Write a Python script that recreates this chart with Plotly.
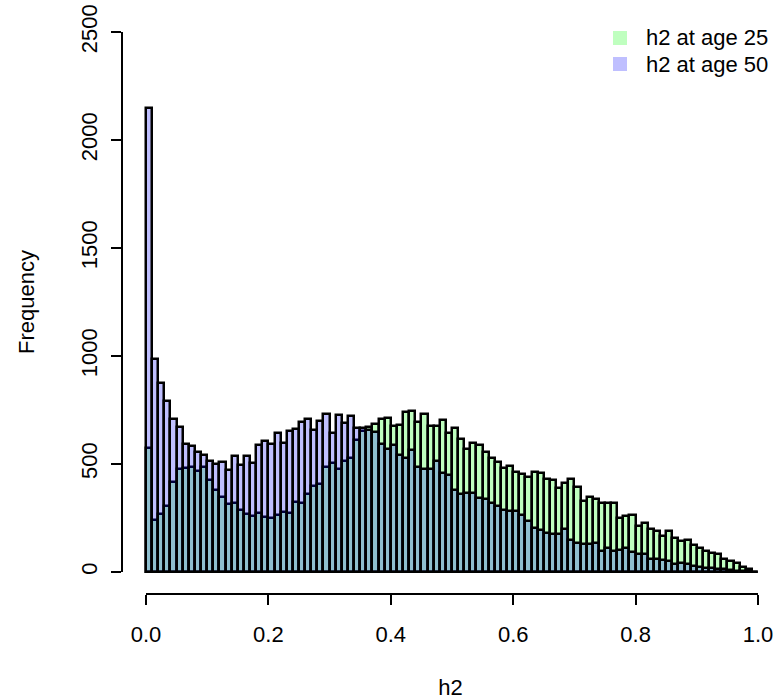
import plotly.graph_objects as go

# Histogram bins: width 0.01 from 0.0 to 1.0
bin_width = 0.01
bin_starts = [round(i * bin_width, 2) for i in range(100)]

# Frequencies
age25 = [576, 241, 267, 306, 417, 475, 481, 485, 468, 488,
         426, 380, 349, 313, 321, 287, 269, 259, 275, 255,
         252, 262, 278, 275, 324, 318, 360, 398, 409, 486,
         506, 475, 514, 529, 610, 655, 672, 684, 707, 712,
         676, 679, 741, 745, 694, 730, 676, 676, 704, 645,
         668, 617, 571, 599, 586, 556, 529, 509, 483, 491,
         463, 452, 441, 463, 457, 429, 426, 390, 414, 429,
         395, 329, 347, 336, 321, 321, 321, 252, 259, 265,
         213, 225, 198, 190, 167, 190, 159, 142, 147, 123,
         113, 96, 86, 82, 59, 51, 40, 25, 12, 0]
age50 = [2150, 985, 877, 792, 707, 673, 594, 583, 556, 542,
         514, 498, 511, 472, 537, 494, 537, 503, 586, 606,
         591, 645, 596, 653, 660, 696, 710, 656, 699, 730,
         645, 725, 691, 722, 665, 665, 656, 648, 591, 570,
         586, 540, 529, 565, 488, 478, 478, 514, 460, 448,
         380, 360, 364, 364, 344, 336, 321, 306, 287, 282,
         282, 262, 236, 205, 194, 182, 174, 174, 198, 148,
         136, 128, 128, 136, 97, 113, 97, 100, 113, 93,
         82, 82, 59, 59, 56, 51, 35, 40, 35, 28,
         25, 20, 20, 15, 12, 9, 6, 5, 3, 0]

x_ticks = [0.0, 0.2, 0.4, 0.6, 0.8, 1.0]
x_tick_labels = ["0.0", "0.2", "0.4", "0.6", "0.8", "1.0"]
y_ticks = [0, 500, 1000, 1500, 2000, 2500]
series_names = ["h2 at age 25", "h2 at age 50"]

GREEN = "rgba(0,255,0,0.25)"
BLUE = "rgba(0,0,255,0.25)"
GREEN_SOLID = "rgb(191,255,191)"
BLUE_SOLID = "rgb(191,191,255)"

W, H = 779, 700
ML, MR, MT, MB = 122, 0, 10, 106
PW, PH = W - ML - MR, H - MT - MB

centers = [s + bin_width / 2 for s in bin_starts]

fig = go.Figure()
fig.add_trace(go.Bar(x=centers, y=age25, width=bin_width, name=series_names[0],
                     marker=dict(color=GREEN, line=dict(color="black", width=2.5))))
fig.add_trace(go.Bar(x=centers, y=age50, width=bin_width, name=series_names[1],
                     marker=dict(color=BLUE, line=dict(color="black", width=2.5))))

FONT = "Liberation Sans, Arial, sans-serif"
FS = 22

def px_x(p):
    return (p - ML) / PW

def px_y(p):
    return (H - MB - p) / PH

shapes = [
    dict(type="line", xref="x", yref="paper", x0=x_ticks[0], x1=x_ticks[-1], y0=0, y1=0,
         line=dict(color="black", width=2)),
    dict(type="line", xref="paper", yref="y", x0=0, x1=0, y0=y_ticks[0], y1=y_ticks[-1],
         line=dict(color="black", width=2)),
]
annotations = []
legend_colors = [GREEN_SOLID, BLUE_SOLID]
for i, (name, col) in enumerate(zip(series_names, legend_colors)):
    cy = 38 + 26 * i
    shapes.append(dict(type="rect", xref="paper", yref="paper",
                       x0=px_x(613), x1=px_x(627), y0=px_y(cy + 7), y1=px_y(cy - 7),
                       fillcolor=col, line=dict(width=0)))
    annotations.append(dict(xref="paper", yref="paper", x=px_x(644), y=px_y(cy),
                            xanchor="left", yanchor="middle", text=name, showarrow=False,
                            font=dict(family=FONT, size=FS, color="black")))

x0 = (ML - 146) / 612
x1 = (W - MR - 146) / 612
y0 = (572 - (H - MB)) / 0.216
y1 = (572 - MT) / 0.216

fig.update_layout(
    width=W, height=H,
    margin=dict(l=ML, r=MR, t=MT, b=MB, pad=0),
    barmode="overlay",
    bargap=0,
    showlegend=False,
    plot_bgcolor="white", paper_bgcolor="white",
    font=dict(family=FONT, size=FS, color="black"),
    shapes=shapes, annotations=annotations,
    xaxis=dict(range=[x0, x1], tickvals=x_ticks, ticktext=x_tick_labels,
               ticks="outside", ticklen=10, tickwidth=2, tickcolor="black",
               showline=False, showgrid=False, zeroline=False, automargin=False,
               ticklabelstandoff=11,
               title=dict(text="h2", standoff=48, font=dict(size=FS))),
    yaxis=dict(range=[y0, y1], tickvals=y_ticks,
               ticks="outside", ticklen=10, tickwidth=2, tickcolor="black",
               tickangle=-90, ticklabelstandoff=5,
               showline=False, showgrid=False, zeroline=False, automargin=False,
               title=dict(text="Frequency", standoff=36, font=dict(size=FS))),
)

fig.write_html("out.html", config={"displayModeBar": False},
               post_script="document.body.style.margin='0';")
